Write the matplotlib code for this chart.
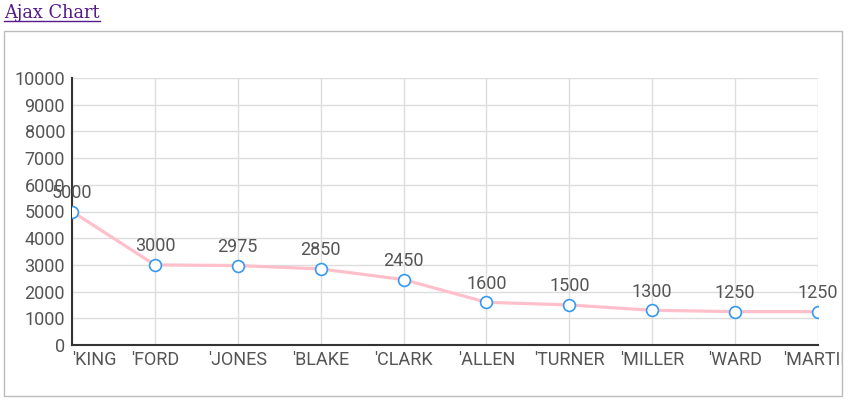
import matplotlib.pyplot as plt
from matplotlib.patches import Rectangle
from matplotlib.transforms import Bbox, TransformedBbox

names = ["'KING", "'FORD", "'JONES", "'BLAKE", "'CLARK", "'ALLEN", "'TURNER", "'MILLER", "'WARD", "'MARTIN"]
salaries = [5000, 3000, 2975, 2850, 2450, 1600, 1500, 1300, 1250, 1250]
y_ticks = list(range(0, 10001, 1000))

W, H = 861, 413
plt.rcParams['font.family'] = ['Roboto', 'DejaVu Sans']

fig = plt.figure(figsize=(W / 100, H / 100), dpi=100)

# page link + bordered container
link = fig.text(4 / W, 1 - 18 / H, "Ajax Chart", family='DejaVu Serif', fontsize=12.8,
                color='#551a8b', ha='left', va='baseline')
fig.canvas.draw()
lw_px = link.get_window_extent().width
fig.add_artist(plt.Line2D([4 / W, (4 + lw_px) / W], [1 - 21 / H, 1 - 21 / H], color='#551a8b', lw=1))
fig.add_artist(Rectangle((4 / W, (H - 396) / H), 838 / W, 365 / H, transform=fig.transFigure,
                         fill=False, edgecolor='#bbbbbb', lw=1))

ax = fig.add_axes([72 / W, (H - 345) / H, 746 / W, 267 / H])
x = list(range(len(names)))
ax.plot(x, salaries, color='#ffc0cb', lw=2.3, zorder=3,
        marker='o', markersize=8.5, markerfacecolor='white',
        markeredgecolor='#3599f0', markeredgewidth=1.2)

for xi, v in zip(x, salaries):
    ax.annotate(str(v), (xi, v), textcoords='offset points', xytext=(0, 7),
                ha='center', va='bottom', fontsize=13, color='#555555')

ax.set_xlim(0, len(names) - 1)
ax.set_ylim(0, 10000)
ax.set_yticks(y_ticks)
ax.set_xticks(x)
ax.set_xticklabels(names)
ax.grid(True, color='#dddddd', lw=1)
ax.set_axisbelow(True)
ax.tick_params(axis='both', length=0, labelsize=13, labelcolor='#555555')
ax.tick_params(axis='y', pad=5)
ax.tick_params(axis='x', pad=4)

for s in ['top', 'right']:
    ax.spines[s].set_visible(False)
for s in ['left', 'bottom']:
    ax.spines[s].set_color('#333333')
    ax.spines[s].set_linewidth(1.5)

labels = ax.get_xticklabels()
labels[0].set_ha('left')
clip = TransformedBbox(Bbox([[4 / W, 0], [842 / W, 1]]), fig.transFigure)
labels[-1].set_clip_on(True)
labels[-1].set_clip_box(clip)

fig.savefig('out.png', dpi=100)
